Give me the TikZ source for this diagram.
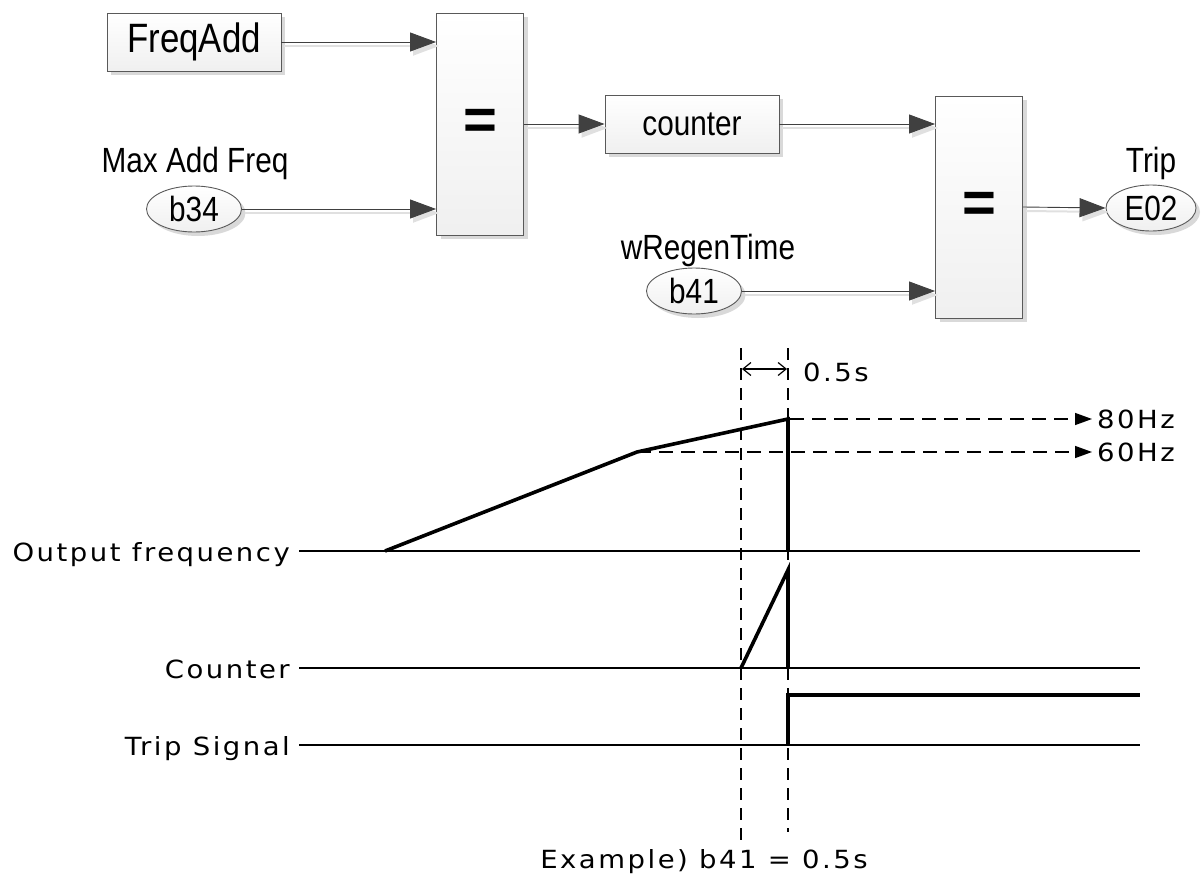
\documentclass[tikz,border=0pt]{standalone}
\usepackage{fontspec}
\setmainfont{Liberation Sans}
\newfontfamily\blockfont{Liberation Sans}[FakeStretch=0.85]
\newfontfamily\chartfont{DejaVu Sans}[FakeStretch=1.1,LetterSpace=10]
\usetikzlibrary{arrows.meta,shapes.geometric,shadows}

\begin{document}
\begin{tikzpicture}[
  x=1pt, y=-1pt,
  every node/.append style={inner sep=0pt},
  blk/.style={draw=black!65, line width=0.9pt, top color=white, bottom color=gray!12,
    drop shadow={shadow xshift=4pt, shadow yshift=-4pt, fill=black!15, opacity=1},
    font=\fontsize{35}{40}\blockfont},
  box/.style={blk, rectangle, minimum width=#1, minimum height=58pt},
  box/.default=174pt,
  eqbox/.style={blk, rectangle, minimum width=87pt, minimum height=222pt,
    font=\fontsize{58}{62}\selectfont\bfseries},
  var/.style={blk, ellipse, minimum width=95pt, minimum height=46pt},
  vlbl/.style={font=\fontsize{35}{40}\blockfont},
  sig/.style={-{Triangle[length=26pt,width=19pt]}, draw=black!55, line width=0.9pt,
    color=black!75,
    preaction={draw=black!12, line width=2pt, transform canvas={shift={(3pt,-4pt)}}}},
  clbl/.style={font=\fontsize{25}{29}\chartfont},
  base/.style={line width=1.6pt},
  wave/.style={line width=3.6pt},
  tmark/.style={line width=1.4pt, dash pattern=on 12pt off 8pt},
  lvl/.style={line width=1.4pt, dash pattern=on 14pt off 8pt, -{Triangle[length=17pt,width=12pt]}},
]
\useasboundingbox (0,0) rectangle (1204,883);
% ================= BLOCK DIAGRAM =================
\node[box, font=\fontsize{41}{46}\blockfont] (fa) at (194,42) {FreqAdd};
\node[var] (b34) at (194,209) {b34};
\node[vlbl] (b34t) at (195,163) {Max Add Freq};
\node[eqbox] (eqa) at (480,124) {=};
\node[box] (cnt) at (692,124) {counter};
\node[var] (b41) at (694,291) {b41};
\node[vlbl] (b41t) at (708,250) {wRegenTime};
\node[eqbox] (eqb) at (979,207) {=};
\node[var, minimum width=90pt] (e02) at (1151,208) {E02};
\node[vlbl] (e02t) at (1151,163) {Trip};
\draw[sig] (fa.east) -- (fa.east -| eqa.west);
\draw[sig] (b34.east) -- (b34.east -| eqa.west);
\draw[sig] (eqa.east) -- (cnt.west);
\draw[sig] (cnt.east) -- (cnt.east -| eqb.west);
\draw[sig] (b41.east) -- (b41.east -| eqb.west);
\draw[sig] (eqb.east) -- (e02.west);
% ================= TIMING CHART =================
\node[clbl, anchor=base east] (lof) at (290,561) {Output frequency};
\node[clbl, anchor=base east] (lcn) at (290,678) {Counter};
\node[clbl, anchor=base east] (ltr) at (290,755) {Trip Signal};
\draw[base] (299,551) -- (1140,551);
\draw[base] (299,668) -- (1140,668);
\draw[base] (299,745) -- (1140,745);
% time marks
\draw[tmark] (741,348) -- (741,842);
\draw[tmark] (788,348) -- (788,832);
\draw[line width=1.2pt, {Straight Barb[length=8pt,width=13pt]}-{Straight Barb[length=8pt,width=13pt]}] (742,369) -- (787,369);
\node[clbl, anchor=west] (dt) at (803,372) {0.5s};
% levels
\draw[lvl] (790,419) -- (1092,419);
\draw[lvl] (637,452) -- (1092,452);
\node[clbl, anchor=west] (f80) at (1097,419) {80Hz};
\node[clbl, anchor=west] (f60) at (1097,452) {60Hz};
% signals
\draw[wave, line join=miter] (385,551) -- (637,452) -- (788,419) -- (788,551);
\draw[wave] (741,668) -- (788,570) -- (788,668);
\draw[wave] (788,745) -- (788,695) -- (1140,695);
\node[clbl] (ex) at (704,862) {Example) b41 = 0.5s};
\end{tikzpicture}
\end{document}
